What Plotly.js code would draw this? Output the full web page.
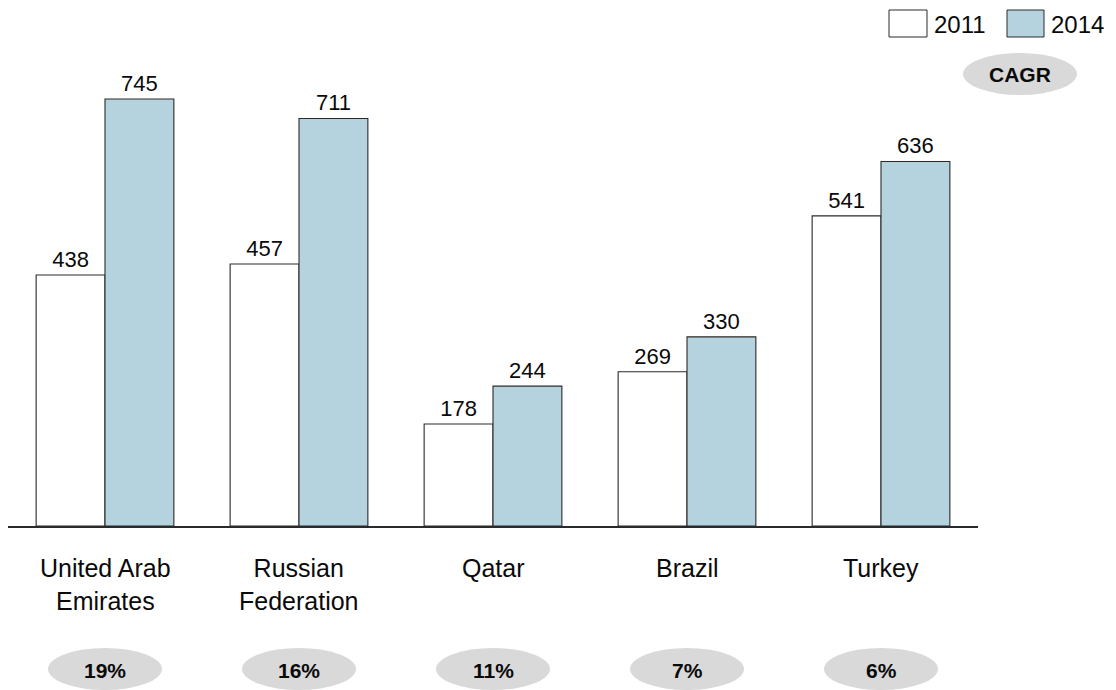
<!DOCTYPE html>
<html>
<head>
<meta charset="utf-8">
<script src="https://cdn.plot.ly/plotly-3.0.1.min.js"></script>
<style>
  html, body { margin: 0; padding: 0; background: #ffffff; }
  #chart { width: 1116px; height: 690px; }
</style>
</head>
<body>
<div id="chart"></div>
<script>
// Countries, yearly values and growth rates
const categories = ['United Arab<br>Emirates', 'Russian<br>Federation', 'Qatar', 'Brazil', 'Turkey'];
const values2011 = [438, 457, 178, 269, 541];
const values2014 = [745, 711, 244, 330, 636];
const cagr = ['19%', '16%', '11%', '7%', '6%'];
const seriesNames = ['2011', '2014'];

const W = 1116, H = 690;
const M = { l: 8, r: 138, t: 60, b: 164 };
const plotW = W - M.l - M.r;
const plotH = H - M.t - M.b;
// Convert page pixels to paper fractions for decorations outside the bars
const px = x => (x - M.l) / plotW;
const py = y => (H - M.b - y) / plotH;

const FONT = "Arial, 'Liberation Sans', sans-serif";
const BLUE = '#b4d3de';
const EDGE = '#2a2a2a';
const GREY = '#d9d9d9';
const INK = '#0a0a0a';

const idx = categories.map((_, i) => i);

const traces = [
  {
    type: 'bar', name: seriesNames[0], x: idx, y: values2011,
    marker: { color: '#ffffff', line: { color: EDGE, width: 1.1 } },
    text: values2011.map(String), textposition: 'outside', cliponaxis: false,
    textfont: { family: FONT, size: 22, color: INK },
    hoverinfo: 'skip'
  },
  {
    type: 'bar', name: seriesNames[1], x: idx, y: values2014,
    marker: { color: BLUE, line: { color: EDGE, width: 1.1 } },
    text: values2014.map(String), textposition: 'outside', cliponaxis: false,
    textfont: { family: FONT, size: 22, color: INK },
    hoverinfo: 'skip'
  }
];

const shapes = [];
const annotations = [];

// Category labels and CAGR bubbles under each group
categories.forEach((c, i) => {
  annotations.push({
    xref: 'x', yref: 'paper', x: i, y: py(552),
    text: c, showarrow: false, xanchor: 'center', yanchor: 'top',
    font: { family: FONT, size: 25, color: INK }
  });
  shapes.push({
    type: 'circle', xref: 'x', yref: 'paper',
    xsizemode: 'pixel', xanchor: i, x0: -57, x1: 57,
    y0: py(690), y1: py(648),
    fillcolor: GREY, line: { width: 0 }, layer: 'below'
  });
  annotations.push({
    xref: 'x', yref: 'paper', x: i, y: py(670),
    text: '<b>' + cagr[i] + '</b>', showarrow: false, xanchor: 'center', yanchor: 'middle',
    font: { family: FONT, size: 21, color: INK }
  });
});

// Legend swatches and CAGR key in the top-right corner
shapes.push({
  type: 'rect', xref: 'paper', yref: 'paper',
  x0: px(889), x1: px(927), y0: py(37), y1: py(10),
  fillcolor: '#ffffff', line: { color: EDGE, width: 1 }
});
shapes.push({
  type: 'rect', xref: 'paper', yref: 'paper',
  x0: px(1007), x1: px(1044), y0: py(37), y1: py(10),
  fillcolor: BLUE, line: { color: EDGE, width: 1 }
});
annotations.push({
  xref: 'paper', yref: 'paper', x: px(932), y: py(24),
  text: seriesNames[0], showarrow: false, xanchor: 'left', yanchor: 'middle',
  font: { family: FONT, size: 24, color: INK }
});
annotations.push({
  xref: 'paper', yref: 'paper', x: px(1049), y: py(24),
  text: seriesNames[1], showarrow: false, xanchor: 'left', yanchor: 'middle',
  font: { family: FONT, size: 24, color: INK }
});
shapes.push({
  type: 'circle', xref: 'paper', yref: 'paper',
  x0: px(963), x1: px(1077), y0: py(95), y1: py(53),
  fillcolor: GREY, line: { width: 0 }, layer: 'below'
});
annotations.push({
  xref: 'paper', yref: 'paper', x: px(1020), y: py(74),
  text: '<b>CAGR</b>', showarrow: false, xanchor: 'center', yanchor: 'middle',
  font: { family: FONT, size: 21, color: INK }
});

const layout = {
  width: W, height: H,
  margin: M,
  paper_bgcolor: '#ffffff', plot_bgcolor: '#ffffff',
  showlegend: false,
  barmode: 'group', bargap: 0.29, bargroupgap: 0,
  xaxis: {
    type: 'linear', range: [-0.5, categories.length - 0.5],
    showline: true, linecolor: EDGE, linewidth: 1.5,
    showticklabels: false, ticks: '', showgrid: false, zeroline: false, fixedrange: true
  },
  yaxis: {
    range: [0, 813], visible: false, showgrid: false, zeroline: false, fixedrange: true
  },
  shapes: shapes,
  annotations: annotations,
  font: { family: FONT }
};

Plotly.newPlot('chart', traces, layout, { staticPlot: true, displayModeBar: false });
</script>
</body>
</html>
